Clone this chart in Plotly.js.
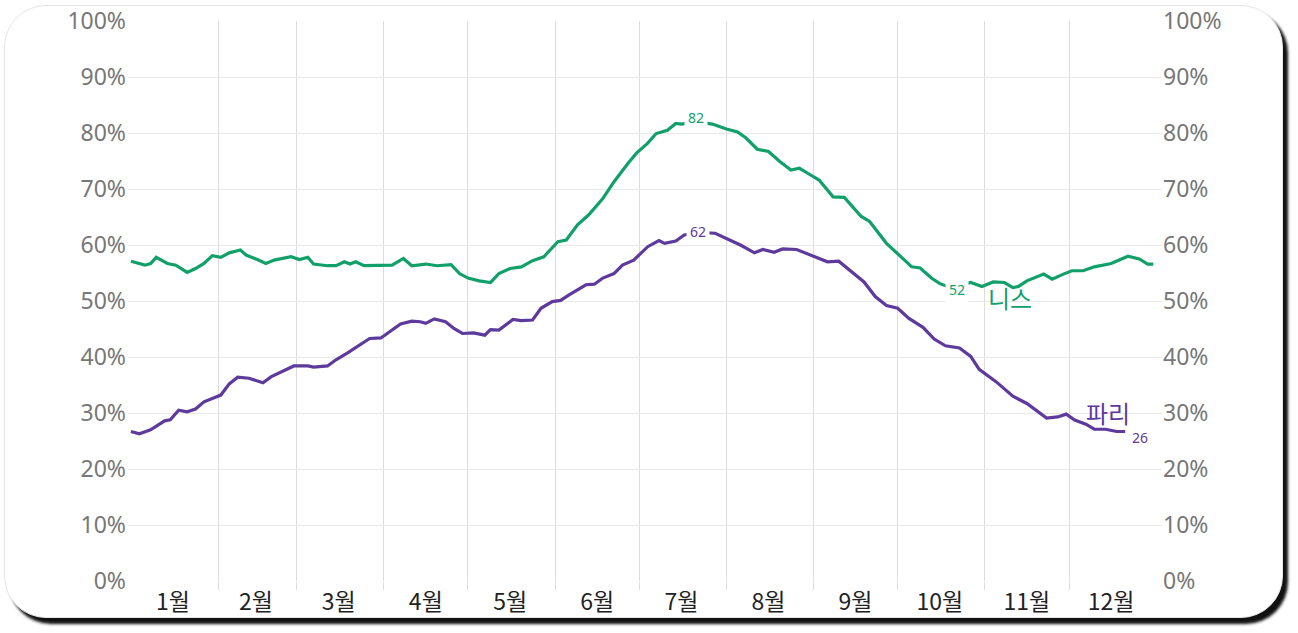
<!DOCTYPE html>
<html>
<head>
<meta charset="utf-8">
<script src="https://cdn.plot.ly/plotly-3.0.1.min.js"></script>
<style>
  html, body { margin: 0; padding: 0; background: #ffffff; }
  #frame {
    position: absolute; left: 4px; top: 5px; width: 1277px; height: 611px;
    border: 1px solid #e6e6e6; border-radius: 42px; background: #ffffff;
    box-shadow: 5px 6px 3px #111111;
  }
  #chart { position: absolute; left: 0; top: 0; width: 1298px; height: 633px; }
</style>
</head>
<body>
<div id="frame"></div>
<div id="chart"></div>
<script>
// ---- data (day of year, % value) ----
const niceDays = [1,6,8,10,14,17,21,24,27,30,33,36,40,42,46,49,52,58,61,64,66,71,74,77,79,81,84,89,94,98,101,106,110,115,118,121,125,129,132,136,140,144,148,153,156,160,164,169,173,178,181,185,188,192,195,197,200,202,205,208,213,217,220,224,228,232,236,239,243,246,251,255,261,264,270,275,279,282,286,289,293,296,300,304,308,312,315,317,320,326,329,333,336,340,344,350,353,356,360,363,365];
const niceVals = [57.1,56.4,56.7,57.8,56.7,56.4,55.1,55.8,56.7,58.1,57.8,58.6,59.1,58.2,57.4,56.7,57.3,57.9,57.4,57.8,56.6,56.3,56.3,57.0,56.6,57.0,56.3,56.3,56.4,57.6,56.3,56.6,56.3,56.5,54.9,54.1,53.6,53.3,54.9,55.8,56.1,57.2,57.9,60.6,60.9,63.6,65.4,68.3,71.3,74.6,76.4,78.2,79.9,80.5,81.7,81.6,81.8,82.0,81.8,81.6,80.7,80.2,79.1,77.1,76.7,74.9,73.4,73.7,72.5,71.6,68.6,68.5,65.1,64.2,60.3,58.0,56.1,55.9,54.1,53.1,52.4,52.8,53.3,52.6,53.4,53.3,52.4,52.6,53.6,54.8,53.9,54.8,55.4,55.4,56.1,56.7,57.4,58.0,57.5,56.6,56.6];

const parisDays = [1,4,8,11,13,15,18,21,24,27,30,33,36,39,43,48,51,55,59,64,66,71,74,78,82,86,90,94,97,101,104,106,109,113,116,119,123,127,129,132,137,140,144,147,151,154,157,163,166,169,173,176,180,185,189,191,195,198,201,204,209,213,218,223,226,230,233,238,242,245,249,253,257,262,266,270,274,278,283,287,291,296,300,303,309,315,320,327,331,334,337,341,344,348,352,355];
const parisVals = [26.7,26.3,27.0,27.9,28.6,28.8,30.5,30.2,30.7,32.0,32.6,33.2,35.2,36.4,36.2,35.4,36.5,37.4,38.4,38.4,38.2,38.4,39.5,40.7,42.0,43.3,43.4,44.8,45.9,46.4,46.3,46.0,46.8,46.3,45.1,44.2,44.3,43.9,44.9,44.8,46.7,46.5,46.6,48.7,49.9,50.1,51.1,52.9,53.0,54.1,54.9,56.4,57.3,59.7,60.8,60.3,60.7,61.8,62.0,62.2,62.1,61.2,60.0,58.6,59.2,58.7,59.3,59.2,58.4,57.9,57.0,57.1,55.5,53.4,50.8,49.2,48.7,46.9,45.3,43.2,42.0,41.6,40.1,37.8,35.6,33.0,31.7,29.1,29.3,29.8,28.75,28.0,27.1,27.1,26.7,26.7];

const monthStarts = [32,60,91,121,152,182,213,244,274,305,335];
const monthMids = [16,45.5,75,106,136,167,197,228,259,289,320,350];
const monthLabels = ['1월','2월','3월','4월','5월','6월','7월','8월','9월','10월','11월','12월'];
const yTicks = [0,10,20,30,40,50,60,70,80,90,100];
const yTickLabels = ['0%','10%','20%','30%','40%','50%','60%','70%','80%','90%','100%'];

const seriesNames = ['니스','파리'];
const GREEN = '#12a06a';
const PURPLE = '#5d3a9b';
const FONT = 'Noto Sans, Noto Sans CJK KR, sans-serif';

// labelled data points
const niceMaxIdx = niceVals.indexOf(Math.max(...niceVals));
const parisMaxIdx = parisVals.indexOf(Math.max(...parisVals));
const niceLowDay = 295, niceLowVal = 52.4;
const parisEnd = parisDays.length - 1;

const traces = [
  { x: niceDays, y: niceVals, mode: 'lines', name: seriesNames[0],
    line: { color: GREEN, width: 3.2 }, hoverinfo: 'x+y', showlegend: false },
  { x: parisDays, y: parisVals, mode: 'lines', name: seriesNames[1],
    line: { color: PURPLE, width: 3.2 }, hoverinfo: 'x+y', showlegend: false },
  // invisible trace to anchor secondary axes
  { x: niceDays, y: niceVals, xaxis: 'x2', yaxis: 'y2', mode: 'lines',
    line: { width: 0, color: 'rgba(0,0,0,0)' }, hoverinfo: 'skip', showlegend: false }
];

const annFont = (c, s) => ({ family: FONT, size: s, color: c });
const annotations = [
  { x: niceDays[niceMaxIdx], y: niceVals[niceMaxIdx], text: String(Math.round(niceVals[niceMaxIdx])),
    showarrow: false, font: annFont(GREEN, 14), bgcolor: '#ffffff', borderpad: 3, yshift: 4, xshift: 1 },
  { x: 203, y: parisVals[parisMaxIdx], text: String(Math.round(parisVals[parisMaxIdx])),
    showarrow: false, font: annFont(PURPLE, 14), bgcolor: '#ffffff', borderpad: 3, yshift: 1 },
  { x: niceLowDay, y: niceLowVal, text: String(Math.round(niceLowVal)),
    showarrow: false, font: annFont(GREEN, 14), bgcolor: '#ffffff', borderpad: 3, yshift: -2 },
  { x: parisDays[parisEnd], y: parisVals[parisEnd], text: String(Math.floor(parisVals[parisEnd])),
    showarrow: false, font: annFont(PURPLE, 14), xanchor: 'left', xshift: 5, yshift: -6 },
  { x: 314, y: 50.5, text: seriesNames[0], showarrow: false, font: annFont(GREEN, 24) },
  { x: 349, y: 30.0, text: seriesNames[1], showarrow: false, font: annFont(PURPLE, 24) }
];

const layout = {
  width: 1298, height: 633,
  margin: { l: 127, r: 136, t: 21, b: 52, pad: 0 },
  paper_bgcolor: 'rgba(0,0,0,0)', plot_bgcolor: 'rgba(0,0,0,0)',
  font: { family: FONT },
  showlegend: false,
  xaxis: {
    range: [-0.4, 368.1], tickmode: 'array', tickvals: monthStarts,
    showticklabels: false, showgrid: true, gridcolor: '#dcdcdc', gridwidth: 1,
    ticks: 'outside', ticklen: 8, tickcolor: '#dcdcdc', tickwidth: 1,
    zeroline: false, showline: false
  },
  xaxis2: {
    overlaying: 'x', matches: 'x', anchor: 'y', side: 'bottom',
    tickmode: 'array', tickvals: monthMids, ticktext: monthLabels,
    showgrid: false, zeroline: false, showline: false, ticks: '', ticklabelstandoff: 5,
    tickfont: { family: 'Noto Sans CJK KR, Noto Sans, sans-serif', size: 23, color: '#222222' }
  },
  yaxis: {
    range: [0, 100], tickmode: 'array', tickvals: yTicks, ticktext: yTickLabels,
    showgrid: true, gridcolor: '#e8e8e8', gridwidth: 1, zeroline: false, showline: false,
    ticks: '', tickfont: { family: FONT, size: 23, color: '#777777' }
  },
  yaxis2: {
    overlaying: 'y', side: 'right', anchor: 'x', range: [0, 100], tickmode: 'array',
    tickvals: yTicks, ticktext: yTickLabels,
    showgrid: false, zeroline: false, showline: false, ticks: '',
    tickfont: { family: FONT, size: 23, color: '#777777' }
  },
  annotations: annotations
};

Plotly.newPlot('chart', traces, layout, { displayModeBar: false });
</script>
</body>
</html>
